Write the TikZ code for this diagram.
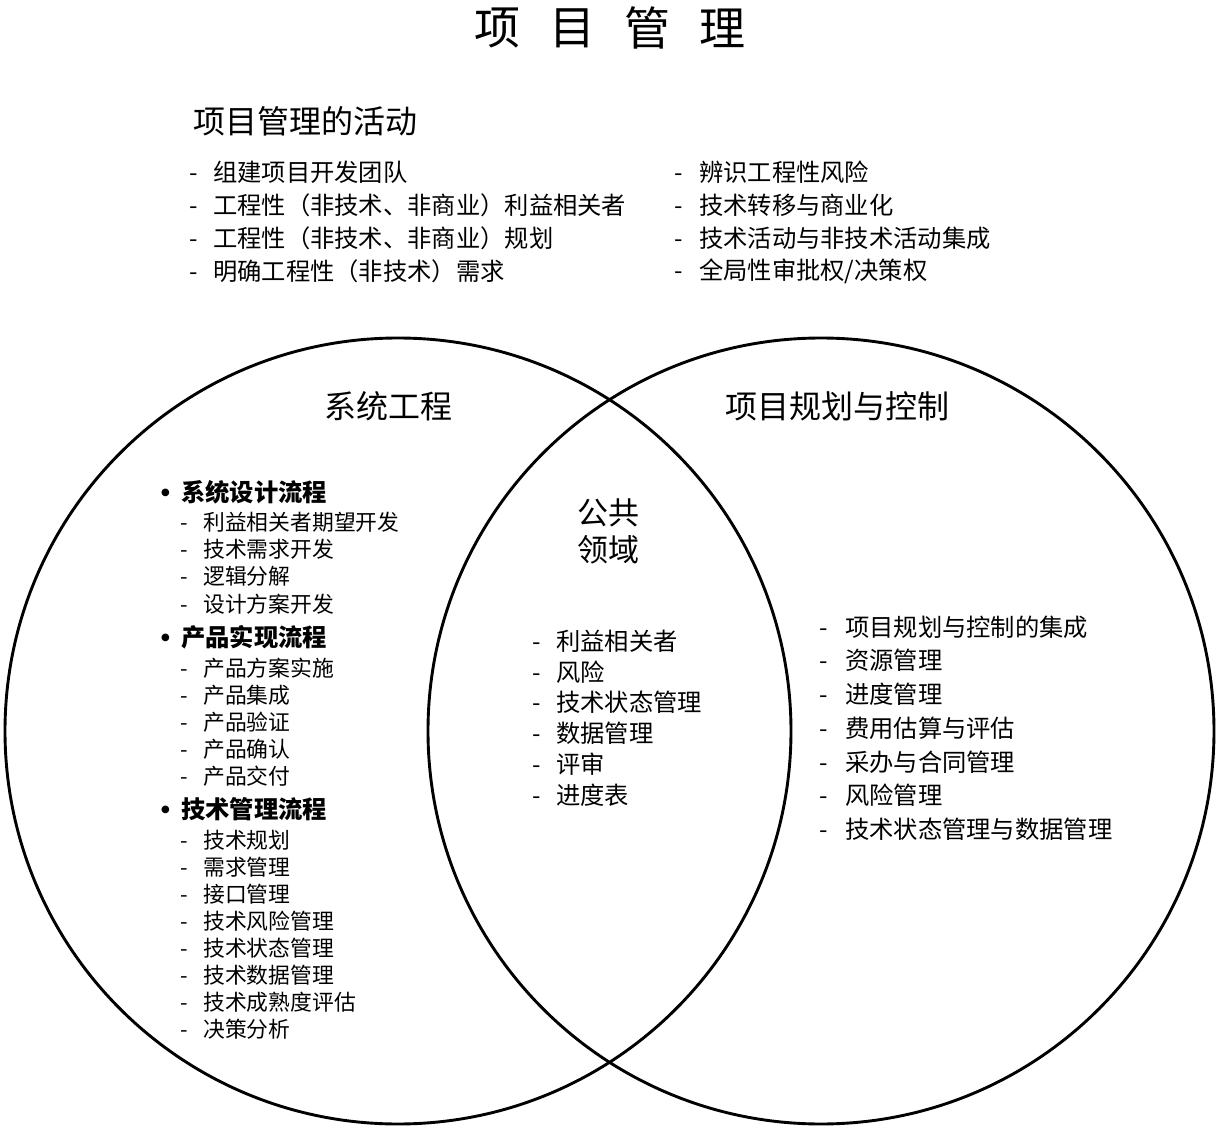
\documentclass[tikz,border=0pt]{standalone}
\usepackage{fontspec}
\setmainfont{Noto Sans CJK SC}
\newfontfamily\dejavu{DejaVu Sans}
\newcommand\bigdot{\makebox[21pt][l]{\hspace{1pt}\raisebox{5.5pt}{\dejavu\fontsize{10}{10}\selectfont ●}}}
\begin{document}
\begin{tikzpicture}[x=1pt,y=-1pt,
  venn/.style={circle,draw,line width=2.9pt,minimum size=786pt,inner sep=0pt},
  titlechar/.style={font=\fontsize{46}{46}\selectfont,inner sep=0pt},
  head/.style={font=\fontsize{32}{32}\selectfont,inner sep=0pt},
  item/.style={font=\fontsize{24.3}{24.3}\selectfont,inner sep=0pt,anchor=west},
  sitem/.style={font=\fontsize{21.8}{21.8}\selectfont,inner sep=0pt,anchor=west},
  bitem/.style={font=\fontsize{24.3}{24.3}\selectfont\bfseries,inner sep=0pt,anchor=west}]
\useasboundingbox (0,0) rectangle (1219,1129);
% circles
\node[venn] (L) at (398,731) {};
\node[venn] (R) at (821,731) {};
% title
\node[titlechar] (t1) at (497,28) {项};
\node[titlechar] (t2) at (572,28) {目};
\node[titlechar] (t3) at (647,28) {管};
\node[titlechar] (t4) at (722,28) {理};
% activities
\node[head,anchor=west] (acth) at (193,121) {项目管理的活动};
\foreach \t [count=\i] in {组建项目开发团队,工程性（非技术、非商业）利益相关者,工程性（非技术、非商业）规划,明确工程性（非技术）需求}
  \node[item] (a\i) at (189,{172+33.2*(\i-1)}) {\makebox[24pt][l]{-}\t};
\foreach \t [count=\i] in {辨识工程性风险,技术转移与商业化,技术活动与非技术活动集成,全局性审批权/决策权}
  \node[item] (b\i) at (674,{172+33.2*(\i-1)}) {\makebox[25pt][l]{-}\t};
% circle headings
\node[head] (lh) at (388,406) {系统工程};
\node[head] (rh) at (837,406) {项目规划与控制};
\node[head,align=center,font=\fontsize{31}{37}\selectfont] (ch) at (608,531) {公共\\领域};
% left circle
\node[bitem] (p1) at (160,492) {\bigdot 系统设计流程};
\foreach \t [count=\i] in {利益相关者期望开发,技术需求开发,逻辑分解,设计方案开发}
  \node[sitem] (p1s\i) at (180,{522+27.3*(\i-1)}) {\makebox[23pt][l]{-}\t};
\node[bitem] (p2) at (160,637) {\bigdot 产品实现流程};
\foreach \t [count=\i] in {产品方案实施,产品集成,产品验证,产品确认,产品交付}
  \node[sitem] (p2s\i) at (180,{668+27*(\i-1)}) {\makebox[23pt][l]{-}\t};
\node[bitem] (p3) at (160,809) {\bigdot 技术管理流程};
\foreach \t [count=\i] in {技术规划,需求管理,接口管理,技术风险管理,技术状态管理,技术数据管理,技术成熟度评估,决策分析}
  \node[sitem] (p3s\i) at (180,{840+27*(\i-1)}) {\makebox[23pt][l]{-}\t};
% center list
\foreach \t [count=\i] in {利益相关者,风险,技术状态管理,数据管理,评审,进度表}
  \node[item] (c\i) at (532,{641+30.8*(\i-1)}) {\makebox[24pt][l]{-}\t};
% right list
\foreach \t [count=\i] in {项目规划与控制的集成,资源管理,进度管理,费用估算与评估,采办与合同管理,风险管理,技术状态管理与数据管理}
  \node[item] (r\i) at (819,{627+33.7*(\i-1)}) {\makebox[26pt][l]{-}\t};
\end{tikzpicture}
\end{document}
